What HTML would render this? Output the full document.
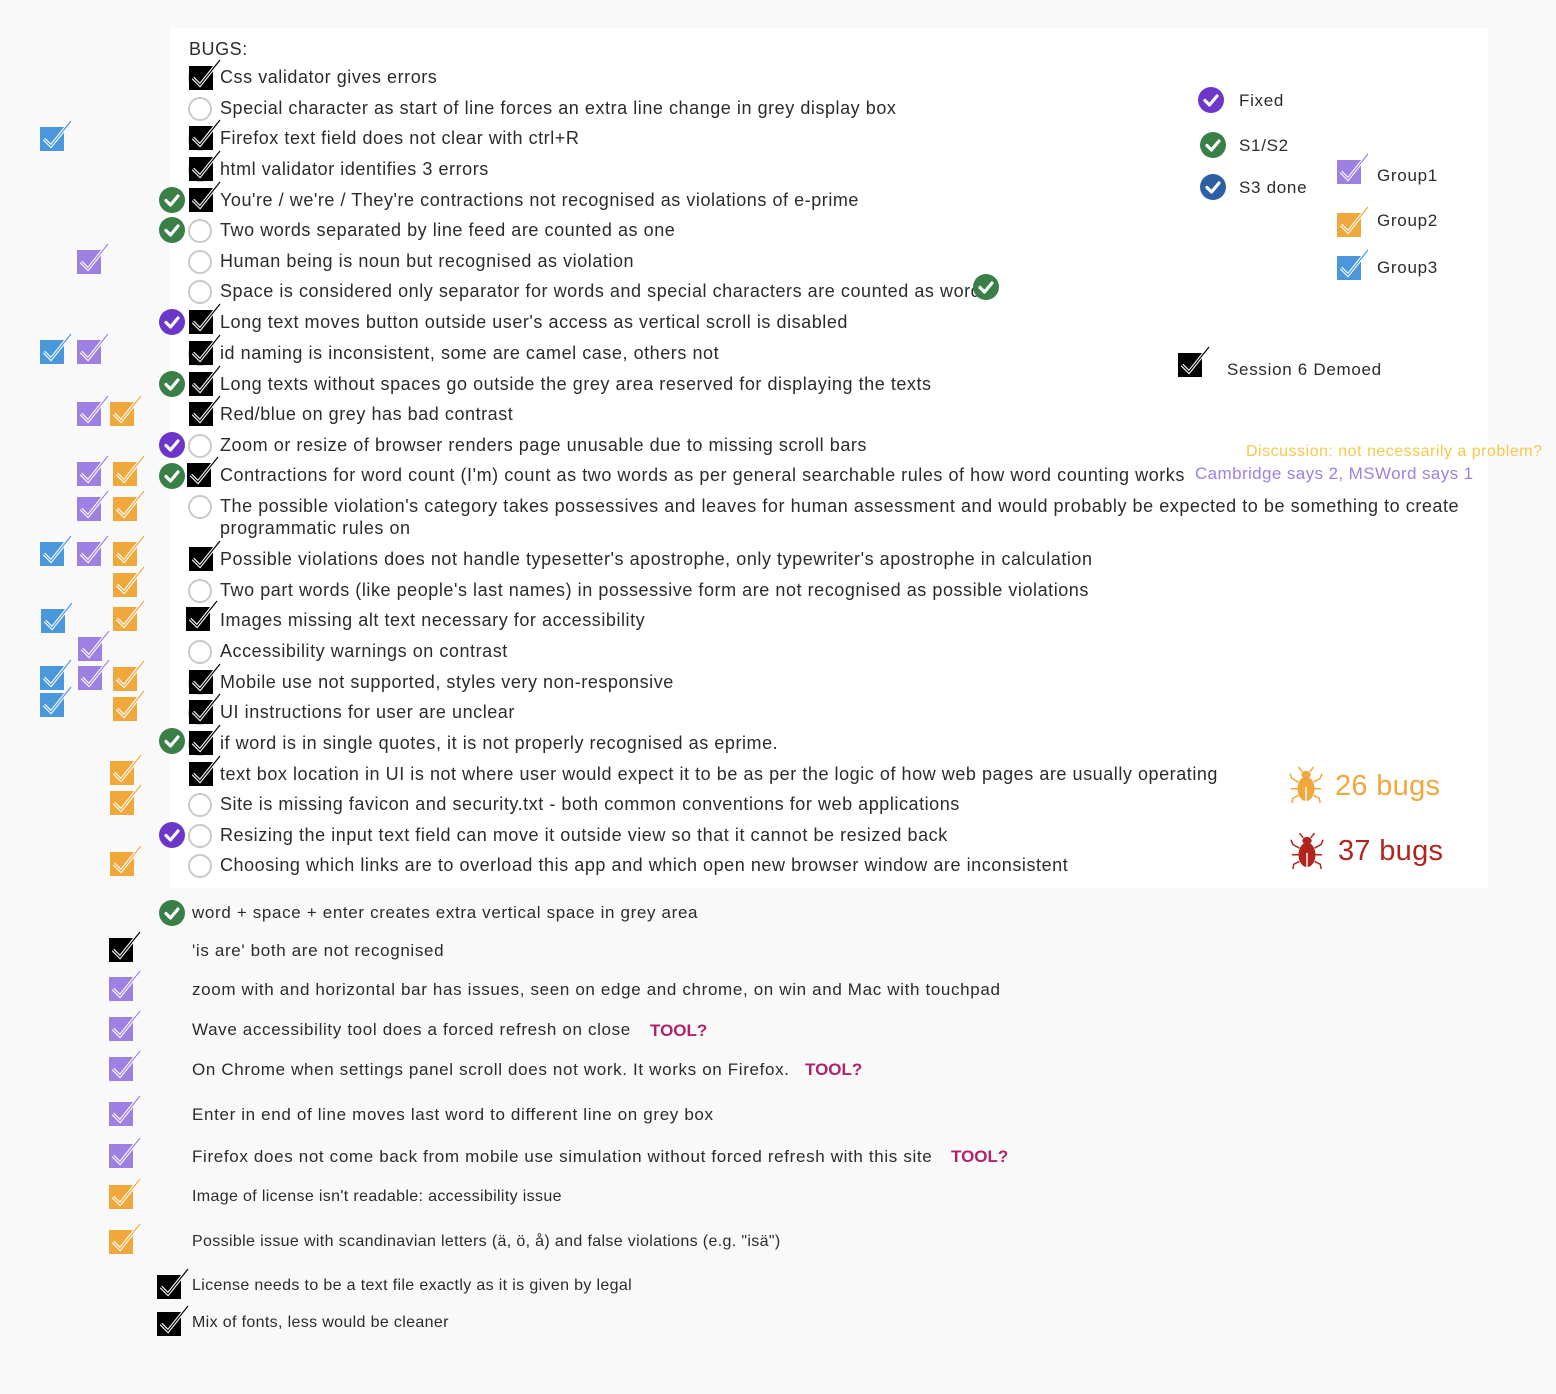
<!DOCTYPE html>
<html><head><meta charset="utf-8"><style>
body{margin:0;width:1556px;height:1394px;background:#f9f9f9;position:relative;overflow:hidden;font-family:"Liberation Sans",sans-serif;color:#2b2b2b}
.panel{position:absolute;left:170px;top:28px;width:1318px;height:860px;background:#fff}
.t{position:absolute;white-space:nowrap;font-size:18px;line-height:22px;letter-spacing:0.55px}
.l{font-size:17px;letter-spacing:0.65px}
.s{font-size:16px;letter-spacing:0.35px}
.g{font-size:17px;letter-spacing:0.7px}
.c{position:absolute;width:34px;height:32px}
.r{position:absolute;width:20px;height:20px;border:2px solid #c9c9c9;border-radius:50%;background:#fff}
.o{position:absolute;width:26px;height:26px}
.tool{color:#b0226a;font-weight:bold;font-size:17px;letter-spacing:0}
</style></head><body>
<svg width="0" height="0" style="position:absolute">
<defs>
<symbol id="k" viewBox="0 0 34 32"><rect x="0" y="8" width="24" height="24" fill="#000"/><path d="M4 20 L11 27 L31 2" fill="none" stroke="#fff" stroke-width="3.4"/><path d="M4 20 L11 27 L31 2" fill="none" stroke="#000" stroke-width="1.2"/></symbol>
<symbol id="p" viewBox="0 0 34 32"><rect x="0" y="8" width="24" height="24" fill="#9d80e2"/><path d="M4 20 L11 27 L31 2" fill="none" stroke="#fff" stroke-width="3.4"/><path d="M4 20 L11 27 L31 2" fill="none" stroke="#9d80e2" stroke-width="1.2"/></symbol>
<symbol id="y" viewBox="0 0 34 32"><rect x="0" y="8" width="24" height="24" fill="#f0a73c"/><path d="M4 20 L11 27 L31 2" fill="none" stroke="#fff" stroke-width="3.4"/><path d="M4 20 L11 27 L31 2" fill="none" stroke="#f0a73c" stroke-width="1.2"/></symbol>
<symbol id="b" viewBox="0 0 34 32"><rect x="0" y="8" width="24" height="24" fill="#4a97dc"/><path d="M4 20 L11 27 L31 2" fill="none" stroke="#fff" stroke-width="3.4"/><path d="M4 20 L11 27 L31 2" fill="none" stroke="#4a97dc" stroke-width="1.2"/></symbol>
<symbol id="G" viewBox="0 0 26 26"><circle cx="13" cy="13" r="13" fill="#3a7f47"/><path d="M7 13.5 L11.5 18 L19 9" fill="none" stroke="#fff" stroke-width="3.2" stroke-linecap="round" stroke-linejoin="round"/></symbol>
<symbol id="F" viewBox="0 0 26 26"><circle cx="13" cy="13" r="13" fill="#6b36c9"/><path d="M7 13.5 L11.5 18 L19 9" fill="none" stroke="#fff" stroke-width="3.2" stroke-linecap="round" stroke-linejoin="round"/></symbol>
<symbol id="B" viewBox="0 0 26 26"><circle cx="13" cy="13" r="13" fill="#2c5fa3"/><path d="M7 13.5 L11.5 18 L19 9" fill="none" stroke="#fff" stroke-width="3.2" stroke-linecap="round" stroke-linejoin="round"/></symbol>
<symbol id="bug" viewBox="0 0 36 40"><g fill="currentColor" stroke="currentColor" stroke-width="1.6"><ellipse cx="18" cy="24" rx="9" ry="13" stroke="none"/><ellipse cx="18" cy="9" rx="5" ry="4" stroke="none"/><path d="M14 6 L10 1 M22 6 L26 1 M10 17 L3 13 L1 8 M26 17 L33 13 L35 8 M9 24 L2 24 M27 24 L34 24 M10 31 L4 34 L3 39 M26 31 L32 34 L33 39" fill="none"/></g><path d="M18 22 L18 37" stroke="#fff" stroke-width="1.5"/></symbol>
</defs></svg>
<div class="panel"></div>

<div class="t" style="left:189px;top:38px">BUGS:</div>

<div class="r" style="left:188px;top:66px"></div><svg class="c" style="left:189px;top:58px"><use href="#k"/></svg><div class="t" style="left:220px;top:66px">Css validator gives errors</div>
<div class="r" style="left:188px;top:97px"></div><div class="t" style="left:220px;top:97px">Special character as start of line forces an extra line change in grey display box</div>
<div class="r" style="left:188px;top:127px"></div><svg class="c" style="left:189px;top:118px"><use href="#k"/></svg><div class="t" style="left:220px;top:127px">Firefox text field does not clear with ctrl+R</div>
<div class="r" style="left:188px;top:158px"></div><svg class="c" style="left:189px;top:149px"><use href="#k"/></svg><div class="t" style="left:220px;top:158px">html validator identifies 3 errors</div>
<svg class="o" style="left:159px;top:187px"><use href="#G"/></svg><svg class="c" style="left:189px;top:180px"><use href="#k"/></svg><div class="t" style="left:220px;top:189px">You're / we're / They're contractions not recognised as violations of e-prime</div>
<svg class="o" style="left:159px;top:217px"><use href="#G"/></svg><div class="r" style="left:188px;top:219px"></div><div class="t" style="left:220px;top:219px">Two words separated by line feed are counted as one</div>
<div class="r" style="left:188px;top:250px"></div><div class="t" style="left:220px;top:250px">Human being is noun but recognised as violation</div>
<div class="r" style="left:188px;top:280px"></div><div class="t" style="left:220px;top:280px">Space is considered only separator for words and special characters are counted as words</div>
<svg class="o" style="left:973px;top:274px"><use href="#G"/></svg>
<svg class="o" style="left:159px;top:309px"><use href="#F"/></svg><svg class="c" style="left:189px;top:302px"><use href="#k"/></svg><div class="t" style="left:220px;top:311px">Long text moves button outside user's access as vertical scroll is disabled</div>
<div class="r" style="left:188px;top:342px"></div><svg class="c" style="left:189px;top:333px"><use href="#k"/></svg><div class="t" style="left:220px;top:342px">id naming is inconsistent, some are camel case, others not</div>
<svg class="o" style="left:159px;top:371px"><use href="#G"/></svg><svg class="c" style="left:189px;top:364px"><use href="#k"/></svg><div class="t" style="left:220px;top:373px">Long texts without spaces go outside the grey area reserved for displaying the texts</div>
<svg class="c" style="left:189px;top:394px"><use href="#k"/></svg><div class="t" style="left:220px;top:403px">Red/blue on grey has bad contrast</div>
<svg class="o" style="left:159px;top:432px"><use href="#F"/></svg><div class="r" style="left:188px;top:434px"></div><div class="t" style="left:220px;top:434px">Zoom or resize of browser renders page unusable due to missing scroll bars</div>
<svg class="o" style="left:159px;top:463px"><use href="#G"/></svg><svg class="c" style="left:187px;top:455px"><use href="#k"/></svg><div class="t" style="left:220px;top:464px">Contractions for word count (I'm) count as two words as per general searchable rules of how word counting works</div>
<div class="t" style="left:1195px;top:463px;color:#9d80e2;font-size:17px;letter-spacing:0.4px">Cambridge says 2, MSWord says 1</div>
<div class="t" style="left:1246px;top:441px;color:#f5c84a;font-size:16px;letter-spacing:0.5px">Discussion: not necessarily a problem?</div>
<div class="r" style="left:188px;top:495px"></div><div class="t" style="left:220px;top:495px">The possible violation's category takes possessives and leaves for human assessment and would probably be expected to be something to create</div>
<div class="t" style="left:220px;top:517px">programmatic rules on</div>
<svg class="c" style="left:189px;top:539px"><use href="#k"/></svg><div class="t" style="left:220px;top:548px">Possible violations does not handle typesetter's apostrophe, only typewriter's apostrophe in calculation</div>
<div class="r" style="left:188px;top:579px"></div><div class="t" style="left:220px;top:579px">Two part words (like people's last names) in possessive form are not recognised as possible violations</div>
<svg class="c" style="left:186px;top:599px"><use href="#k"/></svg><div class="t" style="left:220px;top:609px">Images missing alt text necessary for accessibility</div>
<div class="r" style="left:188px;top:640px"></div><div class="t" style="left:220px;top:640px">Accessibility warnings on contrast</div>
<div class="r" style="left:188px;top:671px"></div><svg class="c" style="left:189px;top:662px"><use href="#k"/></svg><div class="t" style="left:220px;top:671px">Mobile use not supported, styles very non-responsive</div>
<div class="r" style="left:188px;top:701px"></div><svg class="c" style="left:189px;top:692px"><use href="#k"/></svg><div class="t" style="left:220px;top:701px">UI instructions for user are unclear</div>
<svg class="o" style="left:159px;top:728px"><use href="#G"/></svg><div class="r" style="left:188px;top:732px"></div><svg class="c" style="left:189px;top:723px"><use href="#k"/></svg><div class="t" style="left:220px;top:732px">if word is in single quotes, it is not properly recognised as eprime.</div>
<svg class="c" style="left:189px;top:754px"><use href="#k"/></svg><div class="t" style="left:220px;top:763px">text box location in UI is not where user would expect it to be as per the logic of how web pages are usually operating</div>
<div class="r" style="left:188px;top:793px"></div><div class="t" style="left:220px;top:793px">Site is missing favicon and security.txt - both common conventions for web applications</div>
<svg class="o" style="left:159px;top:822px"><use href="#F"/></svg><div class="r" style="left:188px;top:824px"></div><div class="t" style="left:220px;top:824px">Resizing the input text field can move it outside view so that it cannot be resized back</div>
<div class="r" style="left:188px;top:854px"></div><div class="t" style="left:220px;top:854px">Choosing which links are to overload this app and which open new browser window are inconsistent</div>

<svg class="c" style="left:40px;top:119px"><use href="#b"/></svg>
<svg class="c" style="left:77px;top:242px"><use href="#p"/></svg>
<svg class="c" style="left:40px;top:332px"><use href="#b"/></svg><svg class="c" style="left:77px;top:332px"><use href="#p"/></svg>
<svg class="c" style="left:77px;top:394px"><use href="#p"/></svg><svg class="c" style="left:110px;top:394px"><use href="#y"/></svg>
<svg class="c" style="left:77px;top:454px"><use href="#p"/></svg><svg class="c" style="left:113px;top:454px"><use href="#y"/></svg>
<svg class="c" style="left:77px;top:489px"><use href="#p"/></svg><svg class="c" style="left:113px;top:489px"><use href="#y"/></svg>
<svg class="c" style="left:40px;top:534px"><use href="#b"/></svg><svg class="c" style="left:77px;top:534px"><use href="#p"/></svg><svg class="c" style="left:113px;top:534px"><use href="#y"/></svg>
<svg class="c" style="left:113px;top:565px"><use href="#y"/></svg>
<svg class="c" style="left:41px;top:601px"><use href="#b"/></svg><svg class="c" style="left:113px;top:599px"><use href="#y"/></svg>
<svg class="c" style="left:78px;top:629px"><use href="#p"/></svg>
<svg class="c" style="left:40px;top:658px"><use href="#b"/></svg><svg class="c" style="left:78px;top:658px"><use href="#p"/></svg><svg class="c" style="left:113px;top:659px"><use href="#y"/></svg>
<svg class="c" style="left:40px;top:685px"><use href="#b"/></svg><svg class="c" style="left:113px;top:689px"><use href="#y"/></svg>
<svg class="c" style="left:110px;top:753px"><use href="#y"/></svg>
<svg class="c" style="left:110px;top:783px"><use href="#y"/></svg>
<svg class="c" style="left:110px;top:844px"><use href="#y"/></svg>

<svg class="o" style="left:1198px;top:87px"><use href="#F"/></svg><div class="t g" style="left:1239px;top:90px">Fixed</div>
<svg class="o" style="left:1200px;top:132px"><use href="#G"/></svg><div class="t g" style="left:1239px;top:135px">S1/S2</div>
<svg class="o" style="left:1200px;top:174px"><use href="#B"/></svg><div class="t g" style="left:1239px;top:177px">S3 done</div>
<svg class="c" style="left:1337px;top:152px"><use href="#p"/></svg><div class="t g" style="left:1377px;top:165px">Group1</div>
<svg class="c" style="left:1337px;top:205px"><use href="#y"/></svg><div class="t g" style="left:1377px;top:210px">Group2</div>
<svg class="c" style="left:1337px;top:248px"><use href="#b"/></svg><div class="t g" style="left:1377px;top:257px">Group3</div>
<svg class="c" style="left:1178px;top:345px"><use href="#k"/></svg><div class="t g" style="left:1227px;top:359px">Session 6 Demoed</div>

<svg style="position:absolute;left:1289px;top:765px;width:34px;height:40px;color:#f0a73c"><use href="#bug"/></svg>
<div class="t" style="left:1335px;top:768px;font-size:29px;line-height:36px;color:#f0a73c;letter-spacing:0.3px">26 bugs</div>
<svg style="position:absolute;left:1290px;top:831px;width:34px;height:40px;color:#b1251e"><use href="#bug"/></svg>
<div class="t" style="left:1338px;top:833px;font-size:29px;line-height:36px;color:#b1251e;letter-spacing:0.3px">37 bugs</div>

<svg class="o" style="left:159px;top:900px"><use href="#G"/></svg><div class="t l" style="left:192px;top:902px">word + space + enter creates extra vertical space in grey area</div>
<svg class="c" style="left:109px;top:930px"><use href="#k"/></svg><div class="t l" style="left:192px;top:940px">'is are' both are not recognised</div>
<svg class="c" style="left:109px;top:969px"><use href="#p"/></svg><div class="t l" style="left:192px;top:979px">zoom with and horizontal bar has issues, seen on edge and chrome, on win and Mac with touchpad</div>
<svg class="c" style="left:109px;top:1009px"><use href="#p"/></svg><div class="t l" style="left:192px;top:1019px">Wave accessibility tool does a forced refresh on close</div><div class="t tool" style="left:650px;top:1020px">TOOL?</div>
<svg class="c" style="left:109px;top:1049px"><use href="#p"/></svg><div class="t l" style="left:192px;top:1059px">On Chrome when settings panel scroll does not work. It works on Firefox.</div><div class="t tool" style="left:805px;top:1059px">TOOL?</div>
<svg class="c" style="left:109px;top:1094px"><use href="#p"/></svg><div class="t l" style="left:192px;top:1104px">Enter in end of line moves last word to different line on grey box</div>
<svg class="c" style="left:109px;top:1136px"><use href="#p"/></svg><div class="t l" style="left:192px;top:1146px">Firefox does not come back from mobile use simulation without forced refresh with this site</div><div class="t tool" style="left:951px;top:1146px">TOOL?</div>
<svg class="c" style="left:109px;top:1177px"><use href="#y"/></svg><div class="t s" style="left:192px;top:1186px">Image of license isn't readable: accessibility issue</div>
<svg class="c" style="left:109px;top:1222px"><use href="#y"/></svg><div class="t s" style="left:192px;top:1231px">Possible issue with scandinavian letters (ä, ö, å) and false violations (e.g. "isä")</div>
<svg class="c" style="left:157px;top:1267px"><use href="#k"/></svg><div class="t s" style="left:192px;top:1275px">License needs to be a text file exactly as it is given by legal</div>
<svg class="c" style="left:157px;top:1304px"><use href="#k"/></svg><div class="t s" style="left:192px;top:1312px">Mix of fonts, less would be cleaner</div>
</body></html>
